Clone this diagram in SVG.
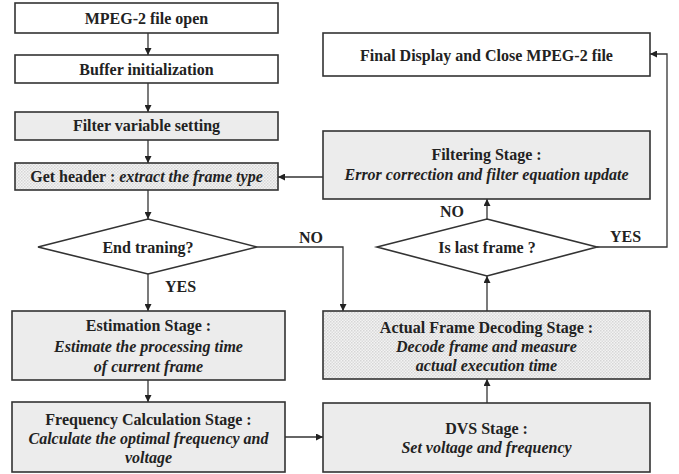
<svg xmlns="http://www.w3.org/2000/svg" width="679" height="474" viewBox="0 0 679 474">
<defs>
<pattern id="dots" width="3" height="3" patternUnits="userSpaceOnUse">
<rect width="3" height="3" fill="#f3f3f3"/>
<rect width="1.5" height="1.5" fill="#d6d6d6"/>
<rect x="1.5" y="1.5" width="1.5" height="1.5" fill="#dcdcdc"/>
</pattern>
<marker id="arr" viewBox="0 0 10 10" refX="10" refY="5" markerWidth="7" markerHeight="7" markerUnits="userSpaceOnUse" orient="auto">
<path d="M0,0 L10,5 L0,10 z" fill="#222"/>
</marker>
<style>
.box{stroke:#333;stroke-width:1.6}
.white{fill:#fff}
.gray{fill:#ececec}
.dot{fill:url(#dots)}
text{font-weight:bold;font-size:16px;fill:#222;text-anchor:middle}
.it{font-style:italic}
.lab{text-anchor:start}
#connectors path{fill:none;stroke:#333;stroke-width:1.3;marker-end:url(#arr)}
</style>
</defs>
<rect width="679" height="474" fill="#fff"/>
<g font-family="'Liberation Serif', 'Times New Roman', Tinos, 'DejaVu Serif', serif">
<g id="n1"><rect class="box white" x="15" y="3" width="263" height="30"/><text x="146.5" y="24">MPEG-2 file open</text></g>
<g id="n2"><rect class="box white" x="15" y="55" width="263" height="28"/><text x="146.5" y="75">Buffer initialization</text></g>
<g id="n3"><rect class="box gray" x="15" y="112" width="263" height="28"/><text x="146.5" y="131">Filter variable setting</text></g>
<g id="n4"><rect class="box dot" x="15" y="163" width="263" height="27"/><text x="146.5" y="182">Get header : <tspan class="it">extract the frame type</tspan></text></g>
<g id="n5"><polygon class="box white" points="38,247 148,219 257,247 148,274"/><text x="148" y="253">End traning?</text></g>
<g id="n6"><rect class="box gray" x="12" y="311" width="273" height="69"/><text x="148.5" y="331">Estimation Stage :</text><text class="it" x="148.5" y="352">Estimate the processing time</text><text class="it" x="148.5" y="372">of current frame</text></g>
<g id="n7"><rect class="box gray" x="12" y="402" width="273" height="70"/><text x="148.5" y="425">Frequency Calculation Stage :</text><text class="it" x="148.5" y="444">Calculate the optimal frequency and</text><text class="it" x="148.5" y="463">voltage</text></g>
<g id="n8"><rect class="box gray" x="323" y="403" width="327" height="69"/><text x="486.5" y="434">DVS Stage :</text><text class="it" x="486.5" y="453">Set voltage and frequency</text></g>
<g id="n9"><rect class="box dot" x="323" y="311" width="327" height="68"/><text x="486.5" y="333">Actual Frame Decoding Stage :</text><text class="it" x="486.5" y="352">Decode frame and measure</text><text class="it" x="486.5" y="371">actual execution time</text></g>
<g id="n10"><polygon class="box white" points="377,247 487,219 597,247 487,276"/><text x="487" y="253">Is last frame ?</text></g>
<g id="n11"><rect class="box gray" x="323" y="131" width="327" height="68"/><text x="486.5" y="160">Filtering Stage :</text><text class="it" x="486.5" y="180">Error correction and filter equation update</text></g>
<g id="n12"><rect class="box white" x="323" y="33" width="327" height="43"/><text x="486.5" y="61">Final Display and Close MPEG-2 file</text></g>

<g id="connectors">
<path d="M148,33 V55"/>
<path d="M148,83 V112"/>
<path d="M148,140 V163"/>
<path d="M148,190 V219"/>
<path d="M148,274 V311"/>
<path d="M148,380 V402"/>
<path d="M257,247 H343 V311"/>
<path d="M285,437 H323"/>
<path d="M487,403 V379"/>
<path d="M487,311 V276"/>
<path d="M487,219 V199"/>
<path d="M323,177 H278"/>
<path d="M597,247 H667 V54 H650"/>
</g>
<g id="labels">
<text class="lab" x="299" y="243">NO</text>
<text class="lab" x="165" y="292">YES</text>
<text class="lab" x="440" y="217">NO</text>
<text class="lab" x="610" y="242">YES</text>
</g>
</g>
</svg>
